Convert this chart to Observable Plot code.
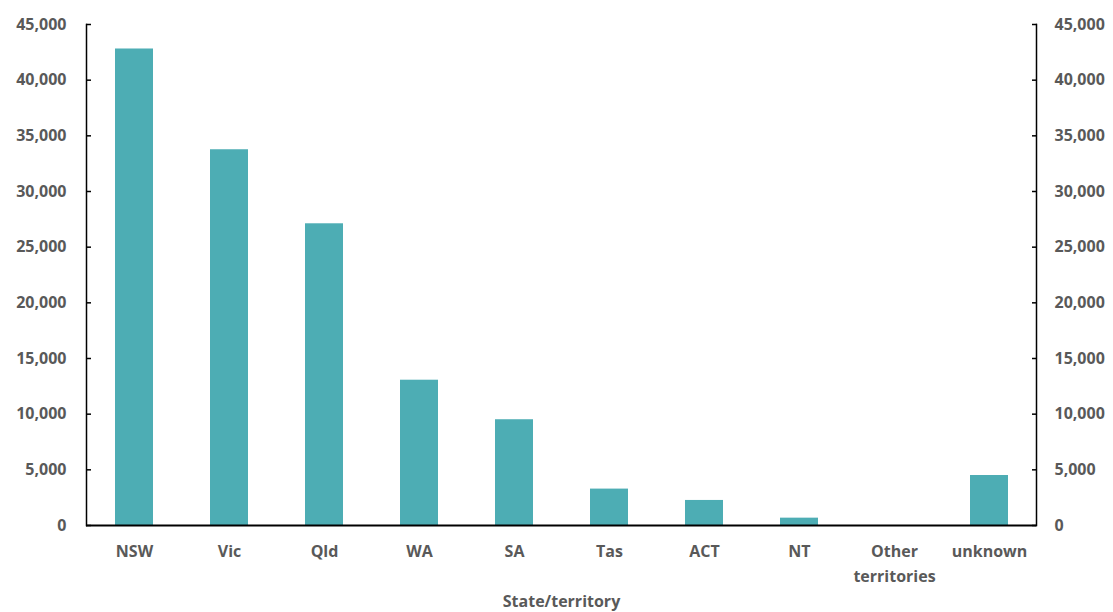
<!DOCTYPE html>
<html>
<head>
<meta charset="utf-8">
<script src="https://cdn.jsdelivr.net/npm/d3@7"></script>
<script src="https://cdn.jsdelivr.net/npm/@observablehq/plot@0.6"></script>
<style>
  html, body { margin: 0; padding: 0; background: #fff; }
  #chart svg { display: block; }
</style>
</head>
<body>
<div id="chart"></div>
<script>
const categories = ["NSW", "Vic", "Qld", "WA", "SA", "Tas", "ACT", "NT", "Other territories", "unknown"];
const values = [42800, 33750, 27100, 13050, 9500, 3270, 2250, 660, 0, 4490];
const yTicks = [0, 5000, 10000, 15000, 20000, 25000, 30000, 35000, 40000, 45000];
const xTitle = "State/territory";

const data = categories.map((c, i) => ({category: c, value: values[i]}));
const fmt = d3.format(",");
const textColor = "#595959";
const font = "'Open Sans', 'Liberation Sans', sans-serif";

const chart = Plot.plot({
  width: 1113,
  height: 612,
  marginLeft: 86,
  marginRight: 77,
  marginTop: 24,
  marginBottom: 87,
  style: {fontFamily: font, fontSize: "16px", fontWeight: "700", color: textColor, background: "#fff"},
  x: {domain: categories, paddingInner: 0.6, paddingOuter: 0.3, label: null},
  y: {domain: [0, 45000], label: null},
  marks: [
    Plot.barY(data, {x: "category", y: "value", fill: "#4DADB4"}),
    Plot.axisX({
      tickSize: 0, tickPadding: 14, label: null, lineHeight: 1.55,
      tickFormat: d => d.replace(" ", "\n"),
      fill: textColor, fontSize: 16, fontWeight: 700
    }),
    Plot.axisY({
      anchor: "left", ticks: yTicks, tickFormat: fmt, tickSize: -5, tickPadding: 25,
      label: null, stroke: "#000", strokeWidth: 1.5, fill: textColor, fontSize: 16, fontWeight: 700
    }),
    Plot.axisY({
      anchor: "right", ticks: yTicks, tickFormat: fmt, tickSize: -5, tickPadding: 23,
      label: null, stroke: "#000", strokeWidth: 1.5, fill: textColor, fontSize: 16, fontWeight: 700
    }),
    Plot.frame({anchor: "left", stroke: "#000", strokeWidth: 1.5}),
    Plot.frame({anchor: "right", stroke: "#000", strokeWidth: 1.5}),
    Plot.ruleY([0], {stroke: "#000", strokeWidth: 2}),
    Plot.text([xTitle], {frameAnchor: "bottom", dy: 81, fill: textColor, fontSize: 16, fontWeight: 700})
  ]
});
document.getElementById("chart").append(chart);
</script>
</body>
</html>
